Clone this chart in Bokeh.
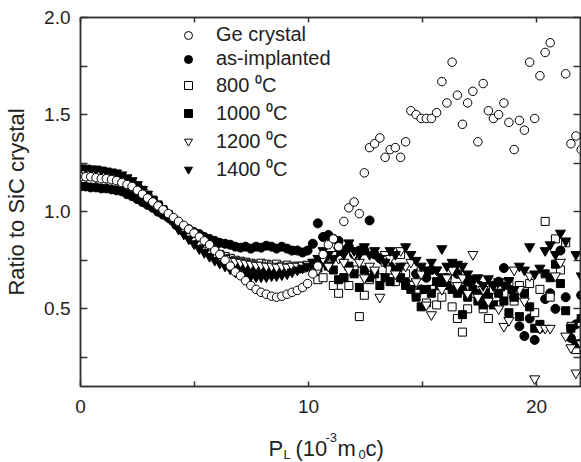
from bokeh.plotting import figure
from bokeh.layouts import column
from bokeh.models import (Range1d, LinearAxis, FixedTicker, PrintfTickFormatter,
                          Legend, LegendItem, ColumnDataSource)
from bokeh.core.properties import value
from bokeh.embed import file_html
from bokeh.resources import INLINE

nan = float("nan")

# ---------------- data ----------------
X = [0.00, 0.23, 0.45, 0.68, 0.91, 1.13, 1.36, 1.58, 1.81, 2.04,
     2.26, 2.49, 2.72, 2.94, 3.17, 3.40, 3.62, 3.85, 4.08, 4.30,
     4.53, 4.75, 4.98, 5.21, 5.43, 5.66, 5.89, 6.11, 6.34, 6.57,
     6.79, 7.02, 7.24, 7.47, 7.70, 7.92, 8.15, 8.38, 8.60, 8.83,
     9.06, 9.28, 9.51, 9.74, 9.96, 10.19, 10.41, 10.64, 10.87, 11.09,
     11.32, 11.55, 11.77, 12.00, 12.23, 12.45, 12.68, 12.90, 13.13, 13.36,
     13.58, 13.81, 14.04, 14.26, 14.49, 14.72, 14.94, 15.17, 15.39, 15.62,
     15.85, 16.07, 16.30, 16.53, 16.75, 16.98, 17.21, 17.43, 17.66, 17.89,
     18.11, 18.34, 18.57, 18.79, 19.02, 19.25, 19.47, 19.70, 19.92, 20.15,
     20.38, 20.60, 20.83, 21.05, 21.28, 21.51, 21.73, 21.96]

ge_crystal = [1.18, 1.18, 1.18, 1.175, 1.17, 1.17, 1.165, 1.16, 1.15, 1.14,
              1.13, 1.11, 1.09, 1.07, 1.05, 1.03, 1.01, 0.99, 0.97, 0.95,
              0.93, 0.91, 0.89, 0.87, 0.85, 0.83, 0.80, 0.78, 0.75, 0.72,
              0.69, 0.67, 0.645, 0.62, 0.60, 0.585, 0.575, 0.565, 0.56, 0.565,
              0.575, 0.585, 0.595, 0.61, 0.63, 0.68, 0.72, 0.78, 0.83, 0.86,
              0.82, 0.95, 1.02, 1.05, 0.99, 1.20, 1.33, 1.35, 1.38, 1.28,
              1.32, 1.33, 1.28, 1.36, 1.52, 1.50, 1.48, 1.48, 1.48, 1.51,
              1.67, 1.56, 1.77, 1.60, 1.45, 1.56, 1.62, 1.36, 1.66, 1.52,
              1.48, 1.50, 1.56, 1.46, 1.32, 1.47, 1.42, 1.77, 1.48, 1.70,
              1.82, 1.87, nan, nan, 1.71, 1.35, 1.39, 1.32]

as_implanted = [1.13, 1.13, 1.125, 1.125, 1.12, 1.12, 1.115, 1.11, 1.105, 1.09,
                1.08, 1.065, 1.05, 1.035, 1.02, 1.0, 0.985, 0.97, 0.955, 0.94,
                0.925, 0.91, 0.895, 0.885, 0.87, 0.86, 0.85, 0.84, 0.835, 0.83,
                0.82, 0.815, 0.82, 0.81, 0.82, 0.815, 0.825, 0.82, 0.81, 0.82,
                0.81, 0.80, 0.80, 0.79, 0.80, 0.835, 0.94, 0.87, 0.88, 0.86,
                0.85, 0.80, 0.82, 0.78, 0.80, 0.80, 0.955, 0.78, 0.76, 0.74,
                0.72, 0.70, 0.66, 0.64, 0.62, 0.68, 0.60, 0.66, 0.70, 0.62,
                0.64, 0.66, 0.72, 0.68, 0.60, 0.64, 0.65, 0.60, 0.56, 0.58,
                0.62, 0.64, 0.71, 0.60, 0.56, 0.41, 0.36, 0.45, 0.34, 0.40,
                0.55, 0.58, 0.50, 0.80, 0.56, 0.35, 0.42, 0.57]

t800 = [1.195, 1.19, 1.19, 1.185, 1.18, 1.18, 1.175, 1.17, 1.16, 1.15,
        1.135, 1.12, 1.10, 1.08, 1.055, 1.03, 1.005, 0.98, 0.955, 0.93,
        0.905, 0.885, 0.865, 0.845, 0.825, 0.81, 0.795, 0.78, 0.77, 0.76,
        0.75, 0.745, 0.74, 0.735, 0.73, 0.735, 0.73, 0.725, 0.73, 0.72,
        0.725, 0.715, 0.72, 0.71, 0.72, 0.72, 0.65, 0.66, 0.73, 0.62,
        0.58, 0.66, 0.62, 0.70, 0.46, 0.57, 0.65, 0.68, 0.66, 0.74,
        0.70, 0.64, 0.78, 0.68, 0.62, 0.58, 0.70, 0.53, 0.60, 0.52,
        0.56, 0.64, 0.51, 0.45, 0.38, 0.50, 0.58, 0.62, 0.50, 0.45,
        0.60, 0.52, 0.58, 0.64, 0.54, 0.62, 0.59, 0.63, 0.48, 0.60,
        0.95, 0.56, 0.86, 0.70, 0.84, 0.41, 0.29, 0.43]

t1000 = [1.21, 1.21, 1.205, 1.20, 1.20, 1.195, 1.19, 1.18, 1.17, 1.16,
         1.145, 1.13, 1.11, 1.085, 1.06, 1.035, 1.01, 0.985, 0.96, 0.935,
         0.91, 0.885, 0.86, 0.84, 0.82, 0.80, 0.785, 0.77, 0.755, 0.74,
         0.73, 0.72, 0.715, 0.71, 0.705, 0.70, 0.70, 0.70, 0.695, 0.70,
         0.70, 0.71, 0.705, 0.715, 0.72, 0.73, 0.71, 0.74, 0.72, 0.70,
         0.65, 0.66, 0.72, 0.68, 0.61, 0.70, 0.66, 0.68, 0.62, 0.66,
         0.64, 0.70, 0.66, 0.62, 0.60, 0.56, 0.51, 0.60, 0.58, 0.64,
         0.66, 0.62, 0.60, 0.58, 0.47, 0.56, 0.60, 0.54, 0.52, 0.56,
         0.52, 0.58, 0.54, 0.48, 0.56, 0.46, 0.58, 0.51, 0.40, 0.42,
         0.68, 0.66, 0.73, 0.63, 0.49, 0.40, 0.32, 0.45]

t1200 = [1.20, 1.20, 1.195, 1.19, 1.19, 1.185, 1.18, 1.175, 1.165, 1.15,
         1.135, 1.12, 1.10, 1.075, 1.05, 1.025, 1.0, 0.975, 0.95, 0.925,
         0.90, 0.875, 0.855, 0.835, 0.815, 0.80, 0.785, 0.77, 0.76, 0.75,
         0.745, 0.74, 0.735, 0.73, 0.725, 0.725, 0.72, 0.72, 0.715, 0.72,
         0.715, 0.72, 0.72, 0.725, 0.73, 0.74, 0.70, 0.76, 0.72, 0.78,
         0.76, 0.74, 0.70, 0.78, 0.74, 0.66, 0.72, 0.70, 0.56, 0.78,
         0.76, 0.68, 0.80, 0.72, 0.74, 0.64, 0.68, 0.52, 0.47, 0.70,
         0.60, 0.66, 0.70, 0.62, 0.66, 0.58, 0.78, 0.56, 0.60, 0.54,
         0.62, 0.50, 0.41, 0.44, 0.70, 0.60, 0.54, 0.67, 0.14, 0.40,
         0.40, 0.40, 0.67, 0.74, 0.36, 0.30, 0.17, 0.32]

t1400 = [1.225, 1.225, 1.22, 1.22, 1.215, 1.21, 1.205, 1.20, 1.19, 1.175,
         1.16, 1.14, 1.115, 1.09, 1.06, 1.03, 1.0, 0.97, 0.94, 0.91,
         0.885, 0.86, 0.835, 0.81, 0.79, 0.77, 0.75, 0.735, 0.72, 0.705,
         0.69, 0.68, 0.675, 0.67, 0.665, 0.665, 0.665, 0.67, 0.67, 0.675,
         0.68, 0.69, 0.70, 0.71, 0.72, 0.74, 0.76, 0.80, 0.78, 0.76,
         0.80, 0.78, 0.84, 0.80, 0.78, 0.82, 0.78, 0.80, 0.76, 0.74,
         0.80, 0.78, 0.72, 0.82, 0.78, 0.75, 0.72, 0.70, 0.74, 0.70,
         0.81, 0.72, 0.74, 0.73, 0.72, 0.68, 0.64, 0.66, 0.62, 0.655,
         0.62, 0.64, 0.62, 0.645, 0.60, 0.72, 0.70, 0.82, 0.68, 0.71,
         0.80, 0.83, 0.78, 0.89, 0.85, 0.40, 0.78, 0.67]

legend_labels = ["Ge crystal", "as-implanted", "800 \u2070C", "1000 \u2070C",
                 "1200 \u2070C", "1400 \u2070C"]
x_ticks = [0, 10, 20]
x_minor = [5, 15]
y_ticks = [0.5, 1.0, 1.5, 2.0]
y_minor = [0.25, 0.75, 1.25, 1.75]

# x-axis title pieces: P_L (10^-3 m_0 c)
title_text = ["P", "L", "(10", "-3", "m", "0", "c)"]
title_small = [False, True, False, True, False, True, False]

# ---------------- layout ----------------
W, H = 581, 462
FL, FT, FR, FB = 80, 17, 580, 386          # frame edges in pixels
MAIN_H = 422                                # main figure height
X0, X1 = 0.0, 21.93
Y0, Y1 = 0.1, 2.0
FONT = "Liberation Sans"
INK = "#222222"
LINE = "#333333"

p = figure(width=W, height=MAIN_H, x_range=Range1d(X0, X1), y_range=Range1d(Y0, Y1),
           output_backend="svg", toolbar_location=None,
           min_border_left=FL, min_border_right=W - FR, min_border_top=FT,
           min_border_bottom=MAIN_H - FB)
p.grid.visible = False
p.background_fill_color = "white"
p.border_fill_color = "white"
p.outline_line_color = LINE
p.outline_line_width = 1.5


def style_axis(ax, ticks, minor, labels=True, tick_len=6):
    ax.ticker = FixedTicker(ticks=ticks, minor_ticks=minor)
    ax.axis_line_color = LINE
    ax.axis_line_width = 1.5
    ax.major_tick_line_color = LINE
    ax.minor_tick_line_color = LINE
    ax.major_tick_line_width = 1.5
    ax.minor_tick_line_width = 1.5
    ax.major_tick_in = tick_len
    ax.major_tick_out = 0
    ax.minor_tick_in = tick_len
    ax.minor_tick_out = 0
    ax.major_label_text_font = FONT
    ax.major_label_text_color = INK
    if labels:
        ax.major_label_text_font_size = "19px"
    else:
        ax.major_label_text_font_size = "0px"
        ax.major_label_standoff = 0
        ax.major_label_overrides = {t: "" for t in ticks}


xb = p.xaxis[0]
style_axis(xb, x_ticks, x_minor, True, 5)
xb.major_label_standoff = 13

yl = p.yaxis[0]
style_axis(yl, y_ticks, y_minor, True, 7)
yl.formatter = PrintfTickFormatter(format="%.1f")
yl.major_label_standoff = 10
yl.axis_label = "Ratio to SiC crystal"
yl.axis_label_text_font = FONT
yl.axis_label_text_font_size = "22px"
yl.axis_label_text_font_style = "normal"
yl.axis_label_text_color = INK
yl.axis_label_standoff = 12

xt = LinearAxis()
style_axis(xt, x_ticks, x_minor, False, 5)
p.add_layout(xt, "above")
yr = LinearAxis()
style_axis(yr, y_ticks, y_minor, False, 7)
p.add_layout(yr, "right")

# ---------------- series ----------------
series = [
    (as_implanted, "circle", 9, "black"),
    (t800, "square", 8, "white"),
    (t1000, "square", 8, "black"),
    (t1200, "inverted_triangle", 10, "white"),
    (t1400, "inverted_triangle", 10, "black"),
    (ge_crystal, "circle", 8.5, "white"),
]
renderers = {}
for vals, marker, size, fill in series:
    r = p.scatter(X, vals, marker=marker, size=size, fill_color=fill,
                  line_color="black", line_width=1)
    renderers[id(vals)] = r

order = [ge_crystal, as_implanted, t800, t1000, t1200, t1400]
items = [LegendItem(label=lab, renderers=[renderers[id(v)]])
         for lab, v in zip(legend_labels, order)]
legend = Legend(items=items, location=(98, 204), border_line_color=None,
                background_fill_alpha=0, padding=0, margin=0, spacing=1,
                glyph_width=20, glyph_height=20, label_height=20,
                label_standoff=18, label_text_font=FONT,
                label_text_font_size="20px", label_text_color=INK)
p.add_layout(legend)

# ---------------- x-axis title strip (pixel coordinates, y from top) ----------------
t = figure(width=W, height=H - MAIN_H, x_range=Range1d(FL, FR),
           y_range=Range1d(H, MAIN_H), output_backend="svg",
           toolbar_location=None, x_axis_type=None, y_axis_type=None,
           min_border_left=FL, min_border_right=W - FR, min_border_top=0,
           min_border_bottom=0)
t.title.visible = False
t.grid.visible = False
t.outline_line_color = None
t.background_fill_color = "white"
t.border_fill_color = "white"

title_left = [268, 283, 295, 325, 337, 358, 365]
title_base = [448, 454, 448, 437, 448, 454, 448]
big = ColumnDataSource(dict(
    x=[l for l, s in zip(title_left, title_small) if not s],
    y=[b for b, s in zip(title_base, title_small) if not s],
    text=[tx for tx, s in zip(title_text, title_small) if not s]))
small = ColumnDataSource(dict(
    x=[l for l, s in zip(title_left, title_small) if s],
    y=[b for b, s in zip(title_base, title_small) if s],
    text=[tx for tx, s in zip(title_text, title_small) if s]))
t.text(x="x", y="y", text="text", source=big, text_font=value(FONT),
       text_font_size=value("22px"), text_color=INK, text_align="left",
       text_baseline="alphabetic")
t.text(x="x", y="y", text="text", source=small, text_font=value(FONT),
       text_font_size=value("13px"), text_color=INK, text_align="left",
       text_baseline="alphabetic")

layout = column(p, t, spacing=0)
open("out.html", "w").write(file_html(layout, INLINE))
